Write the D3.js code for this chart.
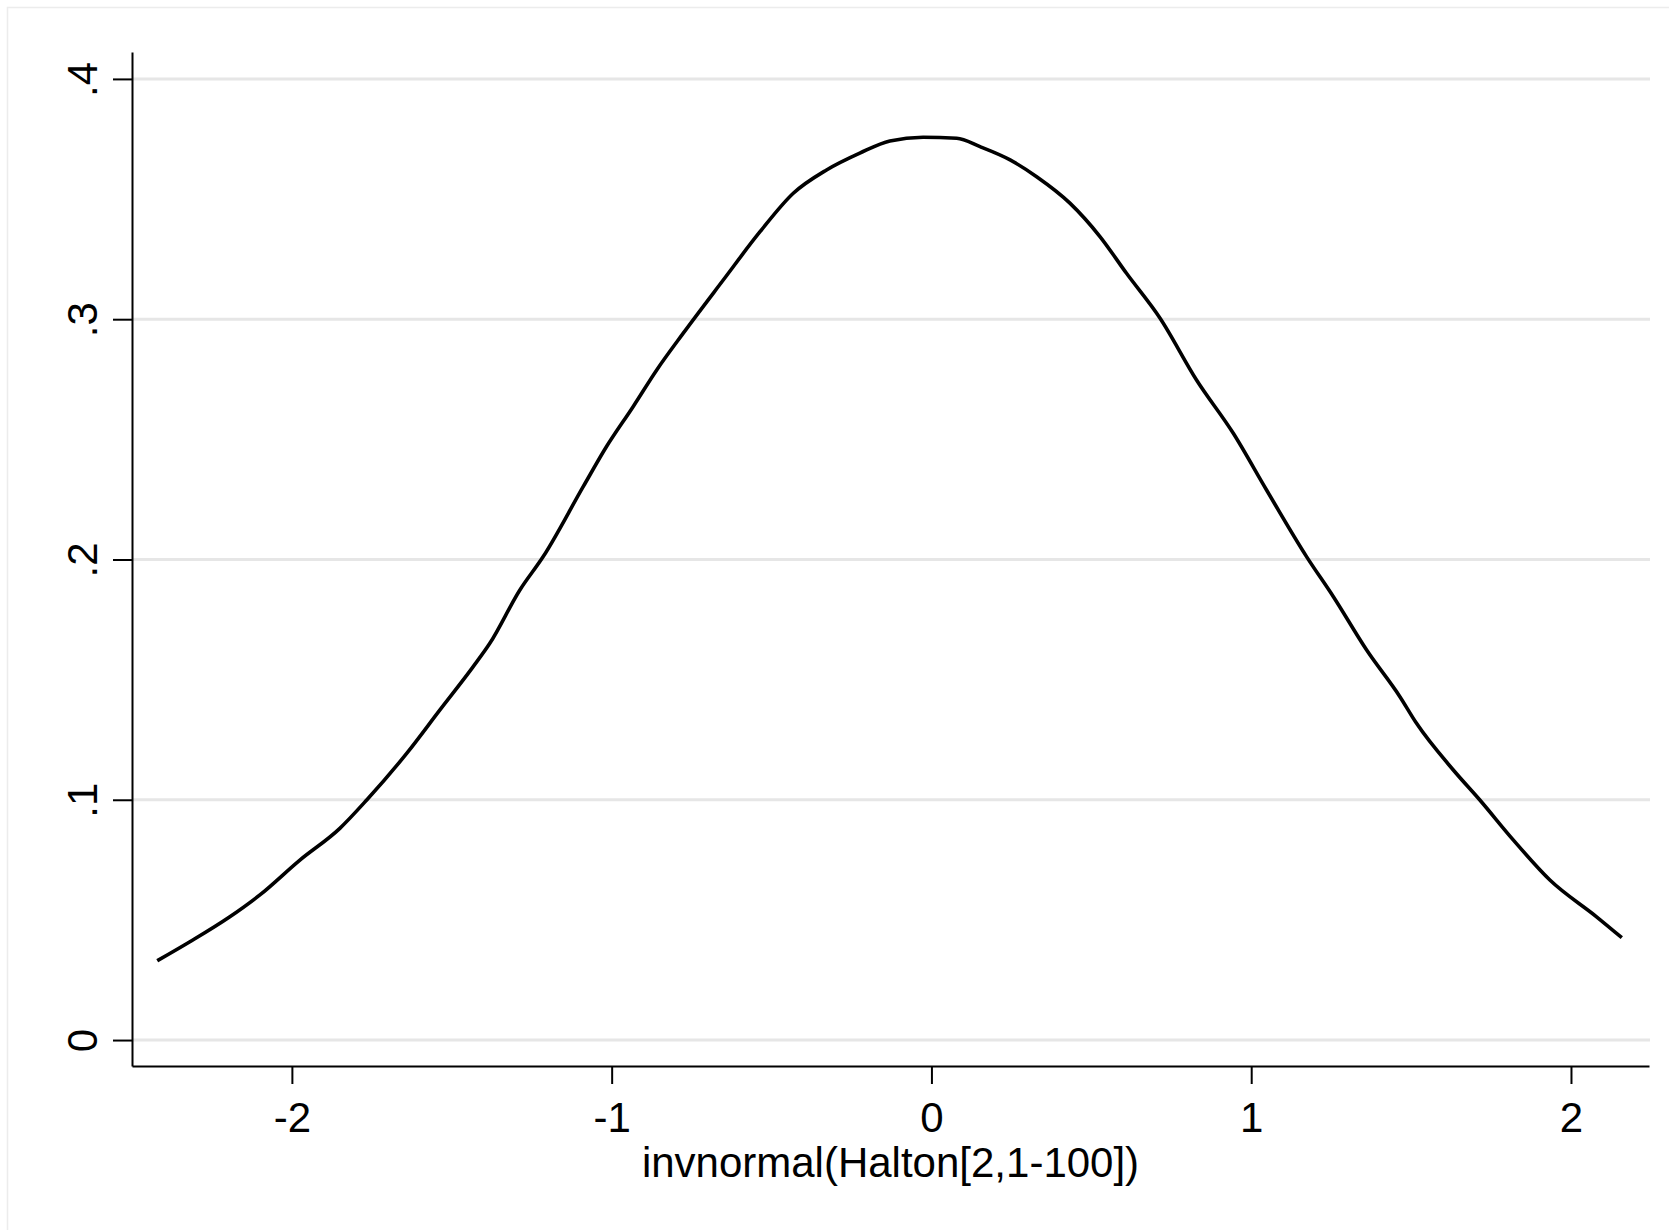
<!DOCTYPE html>
<html lang="en">

<head>
    <meta charset="UTF-8">
    <title>invnormal(Halton) density</title>
    <style>
        body {
            margin: 0;
            background: #fff;
        }

        .axis text {
            font: 42px "Liberation Sans", Arial, sans-serif;
            fill: #000;
        }

        .axis path,
        .axis line {
            stroke: #000;
            stroke-width: 2px;
        }
    </style>
</head>

<body>
    <div id="chart"></div>

    <script src="https://d3js.org/d3.v7.min.js"></script>
    <script>
        // density curve
        const densityX = [-2.421, -2.319, -2.194, -2.100, -1.975, -1.850, -1.766, -1.641, -1.537, -1.433,
            -1.381, -1.287, -1.214, -1.089, -1.016, -0.933, -0.859, -0.776, -0.651, -0.536,
            -0.432, -0.328, -0.224, -0.130, -0.026, 0.079, 0.152, 0.246, 0.329, 0.433,
            0.527, 0.610, 0.715, 0.829, 0.944, 1.048, 1.173, 1.257, 1.361, 1.465,
            1.517, 1.632, 1.715, 1.820, 1.934, 2.080, 2.159];
        const densityY = [0.0330, 0.0409, 0.0513, 0.0604, 0.0749, 0.0881, 0.0999, 0.1193, 0.1374, 0.1554,
            0.1651, 0.1873, 0.2012, 0.2303, 0.2470, 0.2636, 0.2789, 0.2942, 0.3163, 0.3364,
            0.3524, 0.3621, 0.3691, 0.3742, 0.3757, 0.3753, 0.3718, 0.3663, 0.3593, 0.3483,
            0.3344, 0.3191, 0.3004, 0.2747, 0.2525, 0.2289, 0.2012, 0.1845, 0.1623, 0.1429,
            0.1318, 0.1124, 0.0999, 0.0832, 0.0666, 0.0513, 0.0426];

        const xTicks = [-2, -1, 0, 1, 2];
        const xTickLabels = ["-2", "-1", "0", "1", "2"];
        const yTicks = [0, 0.1, 0.2, 0.3, 0.4];
        const yTickLabels = ["0", ".1", ".2", ".3", ".4"];
        const xTitle = "invnormal(Halton[2,1-100])";

        const width = 1669;
        const height = 1230;

        const x = d3.scaleLinear()
            .domain([-2.5, 2.244])
            .range([132, 1649]);

        const y = d3.scaleLinear()
            .domain([-0.0108, 0.4112])
            .range([1066, 52]);

        const svg = d3.select("#chart")
            .append("svg")
            .attr("width", width)
            .attr("height", height);

        // outer frame
        svg.append("rect")
            .attr("x", 7.5)
            .attr("y", 7.5)
            .attr("width", width + 20)
            .attr("height", height + 20)
            .attr("fill", "none")
            .attr("stroke", "#ececec")
            .attr("stroke-width", 1.5);

        // gridlines
        svg.append("g")
            .selectAll("line")
            .data(yTicks)
            .enter()
            .append("line")
            .attr("x1", x.range()[0])
            .attr("x2", x.range()[1] + 1)
            .attr("y1", d => y(d))
            .attr("y2", d => y(d))
            .attr("stroke", "#e6e6e6")
            .attr("stroke-width", 3);

        // the curve
        const points = densityX.map((d, i) => [d, densityY[i]]);

        svg.append("path")
            .datum(points)
            .attr("fill", "none")
            .attr("stroke", "#000")
            .attr("stroke-width", 3.6)
            .attr("stroke-linejoin", "round")
            .attr("d", d3.line()
                .x(d => x(d[0]))
                .y(d => y(d[1]))
                .curve(d3.curveMonotoneX));

        // x axis
        svg.append("g")
            .attr("class", "axis")
            .attr("transform", `translate(0,${y.range()[0]})`)
            .call(d3.axisBottom(x)
                .tickValues(xTicks)
                .tickFormat((d, i) => xTickLabels[i])
                .tickSize(18)
                .tickSizeOuter(0)
                .tickPadding(18));

        // y axis, labels turned on their side
        const yAxis = svg.append("g")
            .attr("class", "axis")
            .attr("transform", `translate(${x.range()[0]},0)`)
            .call(d3.axisLeft(y)
                .tickValues(yTicks)
                .tickFormat((d, i) => yTickLabels[i])
                .tickSize(19)
                .tickSizeOuter(0));

        yAxis.selectAll(".tick text")
            .attr("x", null)
            .attr("dy", null)
            .attr("text-anchor", "middle")
            .attr("transform", "translate(-35,0) rotate(-90)");

        // axis title
        svg.append("text")
            .attr("class", "axis")
            .attr("x", (x.range()[0] + x.range()[1]) / 2)
            .attr("y", 1177)
            .attr("text-anchor", "middle")
            .style("font", '42px "Liberation Sans", Arial, sans-serif')
            .text(xTitle);
    </script>

</body>

</html>
